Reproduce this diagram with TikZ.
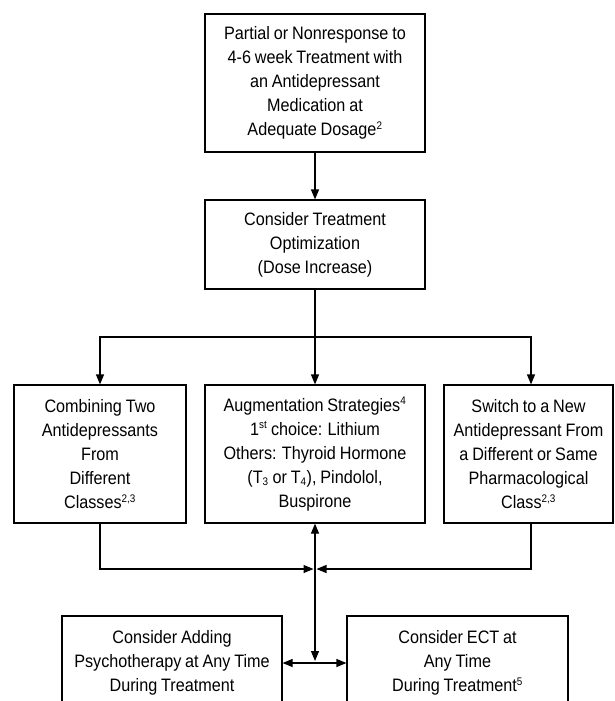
\documentclass[tikz,border=0pt]{standalone}
\usepackage{fontspec}
\setmainfont{Liberation Sans}[FakeStretch=0.9,WordSpace=0.85]
\usetikzlibrary{arrows.meta}
\newcommand\supr[1]{\textsuperscript{\fontsize{11}{11}\selectfont #1}}
\newcommand\subr[1]{\textsubscript{\fontsize{11}{11}\selectfont #1}}
\tikzset{
  box/.style={draw,line width=1.2pt,align=center,inner sep=0pt,
    font=\fontsize{18}{24}\selectfont},
  arr/.style={line width=1.2pt,-{Triangle[length=10pt,width=8pt]}},
  both/.style={line width=1.2pt,{Triangle[length=10pt,width=8pt]}-{Triangle[length=10pt,width=8pt]}}
}
\begin{document}
\begin{tikzpicture}[x=1pt,y=-1pt]
  \useasboundingbox (0,0) rectangle (614,701);
  \clip (0,0) rectangle (614,701);
  \node[box,minimum width=220pt,minimum height=138pt] (partial) at (315,83)
    {Partial or Nonresponse to\\4-6 week Treatment with\\an Antidepressant\\Medication at\\Adequate Dosage\supr{2}};
  \node[box,minimum width=220pt,minimum height=89pt] (optim) at (315,244.5)
    {Consider Treatment\\Optimization\\(Dose Increase)};
  \node[box,minimum width=172pt,minimum height=138pt] (combine) at (100,454)
    {Combining Two\\Antidepressants\\From\\Different\\Classes\supr{2,3}};
  \node[box,minimum width=220pt,minimum height=138pt] (augment) at (315,454)
    {Augmentation Strategies\supr{4}\\1\supr{st} choice: Lithium\\Others: Thyroid Hormone\\(T\subr{3} or T\subr{4}), Pindolol,\\Buspirone};
  \node[box,minimum width=169pt,minimum height=138pt] (switch) at (528.5,454)
    {Switch to a New\\Antidepressant From\\a Different or Same\\Pharmacological\\Class\supr{2,3}};
  \node[box,minimum width=220pt,minimum height=94pt] (psycho) at (172,663)
    {Consider Adding\\Psychotherapy at Any Time\\During Treatment};
  \node[box,minimum width=221pt,minimum height=94pt] (ect) at (457.5,663)
    {Consider ECT at\\Any Time\\During Treatment\supr{5}};

  \coordinate (split) at (315,337);
  \coordinate (join) at (315,569);
  \coordinate (mid) at (315,663);

  \draw[arr] (partial) -- (optim);
  \draw[arr] (optim) -- (augment);
  \draw[arr] (split) -| (combine.north);
  \draw[arr] (split) -| ([xshift=2.5pt]switch.north);
  \draw[arr,shorten >=1.5pt] (combine.south) |- (join);
  \draw[arr,shorten >=1.5pt] ([xshift=2.5pt]switch.south) |- (join);
  \draw[both,shorten >=2pt] (augment.south) -- (mid);
  \draw[both] (psycho.east) -- (ect.west);
\end{tikzpicture}
\end{document}
